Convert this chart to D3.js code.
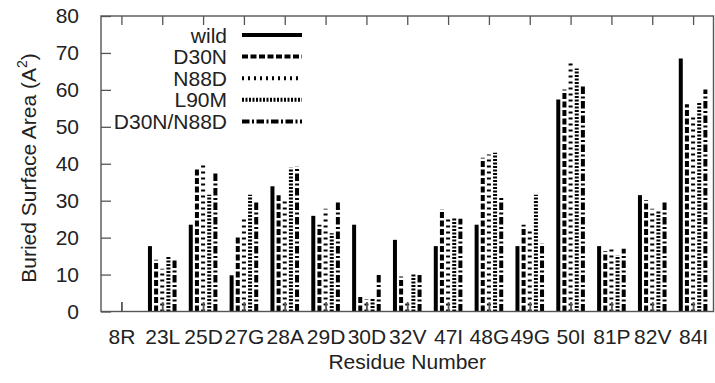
<!DOCTYPE html>
<html>
<head>
<meta charset="utf-8">
<script src="https://cdn.jsdelivr.net/npm/d3@7"></script>
<style>
  html, body { margin: 0; padding: 0; background: #fff; }
  svg { display: block; }
  text { font-family: "Liberation Sans", Arial, Helvetica, sans-serif; fill: #222; }
</style>
</head>
<body>
<svg id="chart" width="715" height="383"></svg>
<script>
// ---- data ----
const categories = ["8R","23L","25D","27G","28A","29D","30D","32V","47I","48G","49G","50I","81P","82V","84I"];
const seriesNames = ["wild","D30N","N88D","L90M","D30N/N88D"];
const wild     = [0, 17.7, 23.5,  9.8, 33.9, 25.9, 23.5, 19.4, 17.7, 23.5, 17.7, 57.4, 17.7, 31.5, 68.5];
const d30n     = [0, 14.0, 39.1, 20.3, 31.5, 23.5,  4.6,  9.5, 27.7, 41.6, 23.5, 60.1, 16.3, 30.1, 56.1];
const n88d     = [0, 11.6, 40.2, 25.8, 30.1, 27.8,  3.4,  2.6, 25.8, 42.5, 22.0, 67.3, 17.4, 27.8, 52.7];
const l90m     = [0, 14.9, 31.6, 31.6, 38.9, 21.2,  3.8, 10.0, 25.3, 43.0, 31.6, 65.8, 15.2, 27.4, 56.6];
const d30nN88d = [0, 14.3, 37.8, 29.6, 39.3, 29.5, 10.0, 10.1, 25.1, 30.8, 18.5, 61.5, 17.0, 29.5, 60.1];
const yTicks = [0, 10, 20, 30, 40, 50, 60, 70, 80];
const xTitle = "Residue Number";

const seriesValues = [wild, d30n, n88d, l90m, d30nN88d];
const dashes = [null, "6,2.5", "2,4", "2,1.5", "7.5,2.5,2,2.5"];

// ---- layout ----
const svg = d3.select("#chart");
const L = 101, R = 713.5, T = 16, B = 311.5;
const FS = 21;

const x = d3.scalePoint().domain(categories).range([L, R]).padding(0.5);
const xs = d3.scalePoint().domain(seriesNames).range([-12.3, 12.3]);
const y = d3.scaleLinear().domain([0, 80]).range([B, T]);

const frameColor = "#555";

// bars (impulses)
const g = svg.append("g");
seriesNames.forEach((s, si) => {
  g.selectAll(null)
    .data(categories.map((c, i) => ({ c, v: seriesValues[si][i] })).filter(d => d.v > 0))
    .enter().append("line")
    .attr("x1", d => x(d.c) + xs(s))
    .attr("x2", d => x(d.c) + xs(s))
    .attr("y1", y(0))
    .attr("y2", d => y(d.v))
    .attr("stroke", "#000")
    .attr("stroke-width", 4)
    .attr("stroke-linecap", "butt")
    .attr("stroke-dasharray", dashes[si]);
});

// left axis ticks (inward) + labels
const yAxis = d3.axisLeft(y).tickValues(yTicks).tickSize(-10).tickPadding(22).tickFormat(d3.format("d"));
const ya = svg.append("g").attr("transform", `translate(${L},0)`).call(yAxis);
ya.select(".domain").remove();
ya.selectAll(".tick line").attr("stroke", frameColor).attr("stroke-width", 1.3);
ya.selectAll(".tick text").attr("font-size", FS).attr("fill", "#222")
  .attr("font-family", "Liberation Sans, Arial, sans-serif");

// bottom axis: ticks inward + labels
const xAxisB = d3.axisBottom(x).tickSize(-9.5).tickPadding(18);
const xb = svg.append("g").attr("transform", `translate(0,${B})`).call(xAxisB);
xb.select(".domain").remove();
xb.selectAll(".tick line").attr("stroke", frameColor).attr("stroke-width", 1.8);
xb.selectAll(".tick text").attr("font-size", FS).attr("fill", "#222")
  .attr("font-family", "Liberation Sans, Arial, sans-serif");

// top axis ticks (mirror, inward, no labels)
const xAxisT = d3.axisTop(x).tickSize(-9).tickFormat("");
const xt = svg.append("g").attr("transform", `translate(0,${T})`).call(xAxisT);
xt.select(".domain").remove();
xt.selectAll(".tick line").attr("stroke", frameColor).attr("stroke-width", 1.3);

// frame
svg.append("rect")
  .attr("x", L).attr("y", T).attr("width", R - L).attr("height", B - T)
  .attr("fill", "none").attr("stroke", frameColor).attr("stroke-width", 1.4);

// axis titles
svg.append("text")
  .attr("x", (L + R) / 2).attr("y", 369)
  .attr("text-anchor", "middle").attr("font-size", FS)
  .text(xTitle);

const yt = svg.append("text")
  .attr("transform", "translate(36,168) rotate(-90)")
  .attr("text-anchor", "middle").attr("font-size", FS);
yt.append("tspan").text("Buried Surface Area (A");
yt.append("tspan").attr("font-size", 14).attr("dy", -9).text("2");
yt.append("tspan").attr("dy", 9).text(")");

// legend
const leg = svg.append("g");
seriesNames.forEach((s, si) => {
  const ly = 35 + si * 21.6;
  leg.append("text")
    .attr("x", 227).attr("y", ly + 7.5)
    .attr("text-anchor", "end").attr("font-size", FS)
    .text(s);
  leg.append("line")
    .attr("x1", 242).attr("x2", 302)
    .attr("y1", ly).attr("y2", ly)
    .attr("stroke", "#000").attr("stroke-width", 4)
    .attr("stroke-dasharray", dashes[si]);
});
</script>
</body>
</html>
